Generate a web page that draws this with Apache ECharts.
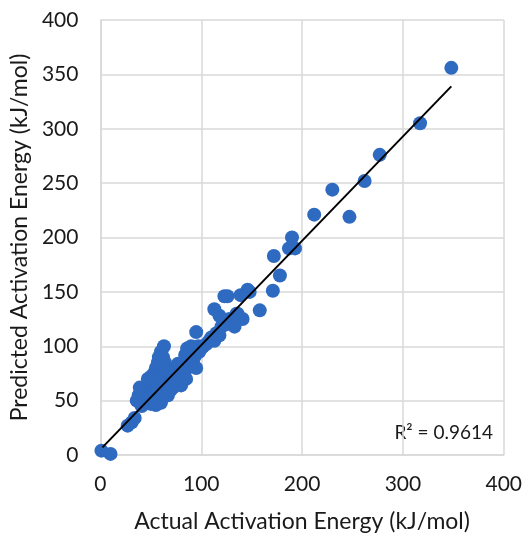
<!DOCTYPE html>
<html>
<head>
<meta charset="utf-8">
<script src="https://cdn.jsdelivr.net/npm/echarts@6/dist/echarts.min.js"></script>
<style>
  html, body { margin: 0; padding: 0; background: #fff; }
  #chart { width: 525px; height: 538px; }
</style>
</head>
<body>
<div id="chart"></div>
<script>
// actual vs predicted activation energy (kJ/mol)
const actual = [
  1, 10, 27, 31, 34,
  36, 38, 40, 42, 44, 46, 45, 39, 43, 41,
  50, 55, 60, 48, 51, 54, 57, 49, 52, 56, 50, 53, 55, 57, 58, 60, 63, 62, 64, 60, 59, 47, 58,
  61, 63, 65, 67, 62, 65, 68, 70, 72, 62, 66, 69, 72, 75, 64, 67, 70, 73, 76, 78, 66, 70, 74, 77, 80, 77,
  82, 84, 86, 88, 82, 85, 88, 90, 92, 84, 87, 90, 93, 95, 98, 86, 90, 94, 97, 95, 100, 85, 95, 80,
  102, 105, 108, 110, 113, 115, 118, 120, 124, 128, 133, 136, 141, 118, 113, 123, 139, 146, 158, 126, 135,
  148, 171, 178, 172, 187, 193, 190, 212, 247, 230, 262, 277, 317, 348
];
const predicted = [
  4, 1, 27, 30, 34,
  50, 55, 47, 58, 52, 62, 48, 62, 55, 45,
  47, 46, 48, 56, 55, 58, 55, 66, 68, 63, 72, 75, 80, 85, 90, 95, 100, 90, 85, 78, 72, 70, 65,
  52, 56, 58, 55, 62, 64, 62, 60, 62, 68, 70, 68, 67, 66, 75, 76, 74, 72, 70, 68, 80, 78, 77, 76, 74, 84,
  75, 78, 80, 82, 85, 88, 86, 84, 88, 92, 94, 92, 90, 93, 95, 98, 100, 98, 100, 113, 98, 70, 80, 64,
  100, 102, 105, 108, 105, 112, 110, 118, 120, 125, 118, 130, 125, 128, 134, 146, 147, 152, 133, 146, 130,
  150, 151, 165, 183, 190, 190, 200, 221, 219, 244, 252, 276, 305, 356
];
const trendX = [2, 348];
const trendY = [7, 339];
const xTicks = [0, 100, 200, 300, 400];
const yTicks = [0, 50, 100, 150, 200, 250, 300, 350, 400];
const r2Label = 'R² = 0.9614';

const points = actual.map((x, i) => [x, predicted[i]]);
const trend = trendX.map((x, i) => [x, trendY[i]]);

const chart = echarts.init(document.getElementById('chart'));
const fontFamily = 'Lato, "Open Sans", sans-serif';
const textColor = '#1a1a1a';
const gridColor = '#d9d9d9';

chart.setOption({
  animation: false,
  grid: { left: 99, right: 20, top: 20, bottom: 81, containLabel: false },
  xAxis: {
    type: 'value',
    min: xTicks[0],
    max: xTicks[xTicks.length - 1],
    interval: 100,
    name: 'Actual Activation Energy (kJ/mol)',
    nameLocation: 'middle',
    nameGap: 55,
    nameTextStyle: { color: textColor, fontSize: 23, fontFamily },
    axisLine: { show: true, lineStyle: { color: gridColor, width: 1.5 } },
    axisTick: { show: false },
    axisLabel: { color: textColor, fontSize: 21, fontFamily, margin: 19 },
    splitLine: { show: true, lineStyle: { color: gridColor, width: 1.5 } }
  },
  yAxis: {
    type: 'value',
    min: yTicks[0],
    max: yTicks[yTicks.length - 1],
    interval: 50,
    name: 'Predicted Activation Energy (kJ/mol)',
    nameLocation: 'middle',
    nameGap: 60,
    nameTextStyle: { color: textColor, fontSize: 23, fontFamily },
    axisLine: { show: true, lineStyle: { color: gridColor, width: 1.5 } },
    axisTick: { show: false },
    axisLabel: { color: textColor, fontSize: 21, fontFamily, margin: 22 },
    splitLine: { show: true, lineStyle: { color: gridColor, width: 1.5 } }
  },
  series: [
    {
      type: 'scatter',
      data: points,
      symbolSize: 14,
      itemStyle: { color: '#2f6ac1', opacity: 1 },
      z: 2
    },
    {
      type: 'line',
      data: trend,
      showSymbol: false,
      lineStyle: { color: '#000', width: 2 },
      z: 3
    }
  ],
  graphic: [
    {
      type: 'text',
      right: 32,
      top: 423,
      style: { text: r2Label, fill: textColor, fontSize: 19, fontFamily }
    }
  ]
});
</script>
</body>
</html>
